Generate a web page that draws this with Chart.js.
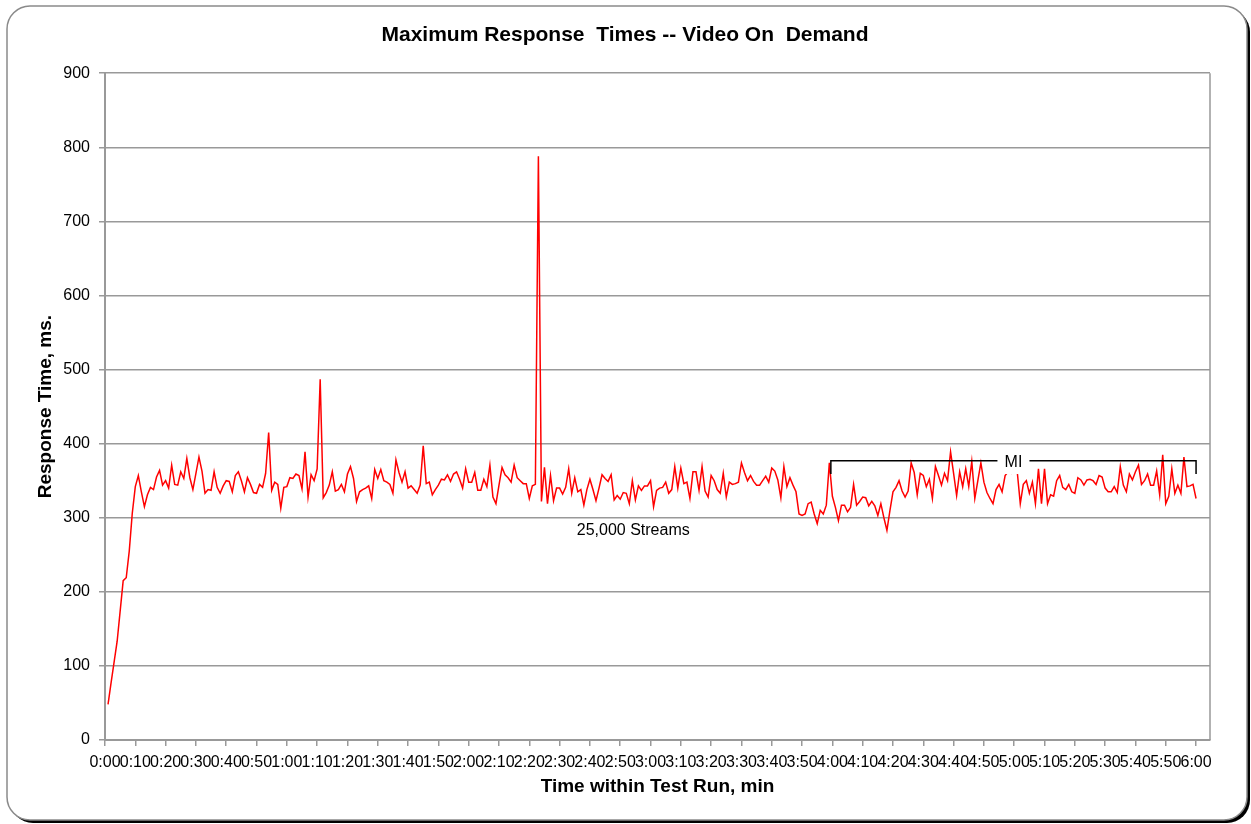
<!DOCTYPE html>
<html>
<head>
<meta charset="utf-8">
<script src="https://cdn.jsdelivr.net/npm/chart.js@4.4.0/dist/chart.umd.min.js"></script>
<style>
html,body{margin:0;padding:0;background:#fff;}
canvas{display:block;}
</style>
</head>
<body>
<canvas id="c" width="1251" height="824"></canvas>
<script>
// ---- data ----
const chartTitle = 'Maximum Response  Times -- Video On  Demand';
const xAxisTitle = 'Time within Test Run, min';
const yAxisTitle = 'Response Time, ms.';

const tickLabels = ['0:00','0:10','0:20','0:30','0:40','0:50','1:00','1:10','1:20','1:30','1:40','1:50',
  '2:00','2:10','2:20','2:30','2:40','2:50','3:00','3:10','3:20','3:30','3:40','3:50',
  '4:00','4:10','4:20','4:30','4:40','4:50','5:00','5:10','5:20','5:30','5:40','5:50','6:00'];

// one sample per second, from 0:01 to 6:00 (ms)
const responseMs = [
  48, 77, 105, 133, 174, 215, 219, 255, 306, 342,
  357, 335, 315, 331, 341, 338, 355, 364, 344, 350,
  340, 371, 345, 344, 362, 353, 380, 354, 338, 360,
  382, 363, 333, 338, 337, 362, 341, 333, 343, 350,
  349, 335, 357, 362, 350, 335, 354, 345, 334, 333,
  345, 341, 360, 415, 337, 348, 345, 313, 341, 342,
  354, 353, 359, 357, 339, 389, 328, 358, 350, 366,
  487, 327, 334, 344, 362, 336, 338, 345, 335, 359,
  369, 353, 322, 335, 338, 340, 343, 326, 365, 353,
  365, 350, 348, 345, 333, 378, 361, 348, 362, 340,
  343, 338, 333, 344, 397, 346, 348, 331, 338, 344,
  352, 351, 358, 349, 359, 362, 352, 340, 366, 348,
  348, 361, 337, 337, 352, 342, 371, 328, 319, 344,
  368, 358, 354, 348, 371, 354, 350, 346, 346, 326,
  343, 345, 788, 322, 368, 319, 357, 323, 340, 340,
  332, 341, 366, 333, 354, 335, 338, 317, 338, 352,
  338, 323, 340, 358, 353, 349, 358, 324, 330, 325,
  334, 333, 319, 350, 324, 343, 337, 343, 343, 350,
  315, 337, 340, 341, 348, 333, 338, 369, 340, 367,
  346, 348, 326, 362, 362, 337, 369, 336, 328, 357,
  350, 338, 333, 360, 328, 348, 345, 346, 348, 374,
  361, 350, 357, 349, 344, 344, 350, 356, 348, 367,
  363, 351, 327, 369, 342, 354, 344, 335, 305, 303,
  305, 319, 321, 305, 292, 310, 305, 317, 374, 329,
  314, 296, 317, 317, 308, 314, 345, 317, 322, 328,
  327, 316, 322, 316, 303, 319, 300, 283, 310, 335,
  341, 350, 336, 328, 336, 374, 361, 331, 360, 357,
  342, 352, 326, 369, 357, 344, 360, 350, 389, 360,
  330, 362, 342, 366, 342, 376, 326, 350, 374, 348,
  334, 326, 319, 338, 345, 335, 357, 362, 360, 365,
  362, 319, 345, 350, 333, 348, 319, 366, 319, 366,
  319, 331, 329, 350, 357, 341, 338, 345, 335, 333,
  354, 351, 344, 351, 352, 350, 345, 357, 355, 340,
  335, 335, 342, 334, 369, 344, 335, 359, 351, 362,
  371, 345, 350, 359, 344, 344, 363, 331, 385, 319,
  329, 366, 333, 344, 333, 382, 342, 343, 345, 326
];

// annotations (in data units: seconds, ms)
const streamsNote = { text: '25,000 Streams', sec: 174.3, ms: 283 };
const miBracket = { text: 'MI', fromSec: 239.5, toSec: 360, topMs: 377, footMs: 359 };

// ---- build ----
const points = responseMs.map((v, i) => ({ x: i + 1, y: v }));
const FONT = "'Liberation Sans', Arial, Helvetica, sans-serif";
Chart.defaults.font.family = FONT;
Chart.defaults.color = '#000';

function roundRect(ctx, x, y, w, h, r) {
  ctx.beginPath();
  ctx.moveTo(x + r, y);
  ctx.arcTo(x + w, y, x + w, y + h, r);
  ctx.arcTo(x + w, y + h, x, y + h, r);
  ctx.arcTo(x, y + h, x, y, r);
  ctx.arcTo(x, y, x + w, y, r);
  ctx.closePath();
}

const framePlugin = {
  id: 'frame',
  beforeDraw(chart) {
    const ctx = chart.ctx;
    ctx.save();
    ctx.fillStyle = '#fff';
    ctx.fillRect(0, 0, chart.width, chart.height);
    ctx.fillStyle = '#000';
    roundRect(ctx, 10, 9, 1240, 814, 23);
    ctx.fill();
    ctx.fillStyle = '#fff';
    roundRect(ctx, 7, 6, 1240, 814, 23);
    ctx.fill();
    ctx.strokeStyle = '#8a8a8a';
    ctx.lineWidth = 1.5;
    ctx.stroke();
    ctx.restore();
  },
  afterDraw(chart) {
    const ctx = chart.ctx;
    const a = chart.chartArea;
    ctx.save();
    ctx.strokeStyle = '#999';
    ctx.lineWidth = 1.5;
    ctx.beginPath();
    ctx.moveTo(a.right, a.top);
    ctx.lineTo(a.right, a.bottom);
    ctx.stroke();
    // chart title, centred over the whole frame
    ctx.font = 'bold 21px ' + FONT;
    ctx.fillStyle = '#000';
    ctx.textAlign = 'center';
    ctx.textBaseline = 'middle';
    ctx.fillText(chartTitle, (a.left + a.right) / 2 + 0.5 * 0 + (chart.width / 2 - (a.left + a.right) / 2) * 0 + softShift(a), 35);
    ctx.restore();
  }
};

function softShift(a) {
  // the title sits centred between the plot's left edge and the frame's right edge
  return ((a.left + 1145) / 2) - (a.left + a.right) / 2;
}

const notesPlugin = {
  id: 'notes',
  afterDatasetsDraw(chart) {
    const ctx = chart.ctx;
    const xs = chart.scales.x, ys = chart.scales.y;
    ctx.save();
    ctx.font = '16px ' + FONT;
    ctx.textAlign = 'center';
    ctx.textBaseline = 'middle';
    ctx.fillStyle = '#000';
    ctx.fillText(streamsNote.text, xs.getPixelForValue(streamsNote.sec), ys.getPixelForValue(streamsNote.ms));

    const x1 = xs.getPixelForValue(miBracket.fromSec);
    const x2 = xs.getPixelForValue(miBracket.toSec);
    const yt = ys.getPixelForValue(miBracket.topMs);
    const yf = ys.getPixelForValue(miBracket.footMs);
    const xm = (x1 + x2) / 2;
    const gap = 16;
    ctx.fillStyle = '#fff';
    ctx.fillRect(xm - gap, yt - 11, gap * 2, yf - yt + 11);
    ctx.strokeStyle = '#000';
    ctx.lineWidth = 1.5;
    ctx.beginPath();
    ctx.moveTo(x1, yf); ctx.lineTo(x1, yt); ctx.lineTo(xm - gap, yt);
    ctx.moveTo(xm + gap, yt); ctx.lineTo(x2, yt); ctx.lineTo(x2, yf);
    ctx.stroke();
    ctx.fillStyle = '#000';
    ctx.fillText(miBracket.text, xm, yt + 2);
    ctx.restore();
  }
};

new Chart(document.getElementById('c'), {
  type: 'line',
  data: {
    datasets: [{
      label: 'Max response',
      data: points,
      borderColor: '#ff0000',
      borderWidth: 1.5,
      pointRadius: 0,
      tension: 0,
      fill: false
    }]
  },
  options: {
    responsive: false,
    animation: false,
    devicePixelRatio: 1,
    layout: { padding: { left: 30, right: 41, top: 14, bottom: 26 } },
    plugins: {
      legend: { display: false },
      tooltip: { enabled: false },
      title: {
        // reserves the title band; the visible title is painted by the frame plugin
        display: true,
        text: chartTitle,
        color: 'rgba(0,0,0,0)',
        font: { size: 21, weight: 'bold', family: FONT },
        padding: { top: 8, bottom: 26 }
      }
    },
    scales: {
      x: {
        type: 'linear',
        min: 0,
        max: 364.6,
        afterBuildTicks(scale) {
          scale.ticks = tickLabels.map((_, i) => ({ value: i * 10 }));
        },
        afterFit(scale) { scale.height = 58; },
        ticks: {
          autoSkip: false,
          maxRotation: 0,
          minRotation: 0,
          padding: 7,
          color: '#000',
          font: { size: 16 },
          callback: (v) => tickLabels[Math.round(v / 10)]
        },
        grid: {
          drawOnChartArea: false,
          drawTicks: true,
          tickLength: 6,
          color: '#999',
          lineWidth: 1.5
        },
        border: { display: true, color: '#999', width: 2 },
        title: {
          display: true,
          text: xAxisTitle,
          color: '#000',
          font: { size: 19, weight: 'bold' },
          padding: { top: 0, bottom: 0 }
        }
      },
      y: {
        min: 0,
        max: 900,
        afterFit(scale) { scale.width = 75; },
        ticks: {
          stepSize: 100,
          padding: 9,
          color: '#000',
          font: { size: 16 }
        },
        grid: {
          color: '#999',
          lineWidth: 1.5,
          tickLength: 6
        },
        border: { display: true, color: '#999', width: 2 },
        title: {
          display: true,
          text: yAxisTitle,
          color: '#000',
          font: { size: 19, weight: 'bold' },
          padding: { top: 4, bottom: 0 }
        }
      }
    }
  },
  plugins: [framePlugin, notesPlugin]
});
</script>
</body>
</html>
